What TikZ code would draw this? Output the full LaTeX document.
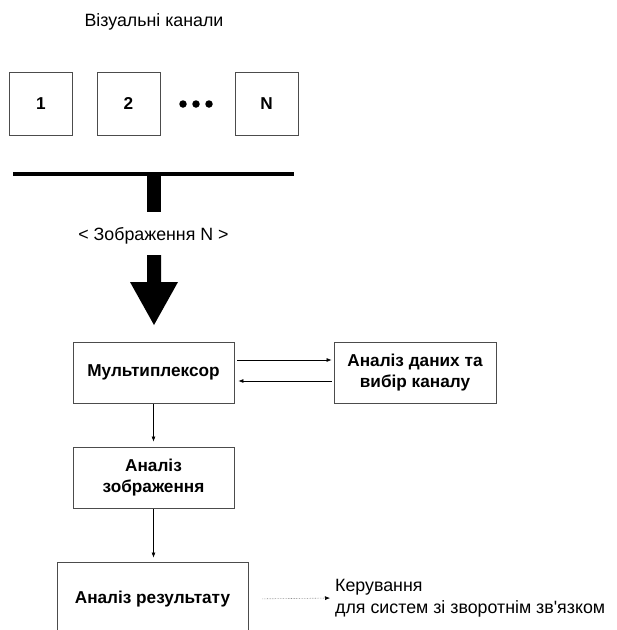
\documentclass[tikz,border=0pt]{standalone}
\usepackage{fontspec}
\setmainfont{Liberation Sans}
\usetikzlibrary{arrows.meta}

\begin{document}
\begin{tikzpicture}[x=1pt, y=-1pt,
    box/.style={draw=black!70, line width=0.9pt, inner sep=0, align=center,
    font=\bfseries\fontsize{17.2}{21}\selectfont},
    chan/.style={box, minimum width=63pt, minimum height=63pt},
    stage/.style={box, minimum width=161pt, minimum height=61pt},
    link/.style={-{Latex[length=5pt, width=4pt]}, line width=0.6pt},
    plain/.style={inner sep=0, align=left, font=\fontsize{17.8}{21.5}\selectfont}]

    \clip (0,0) rectangle (617,630);

    % Channels
    \node[plain] (title) at (154,22) {Візуальні канали};
    \node[chan] (c1) at (41,103.5) {1};
    \node[chan] (c2) at (128.5,103.5) {2};
    \node[chan] (cN) at (266.5,103.5) {N};
    \foreach \x/\n in {183/a, 196/b, 209/c}
        \node[circle, fill, inner sep=0, minimum size=7.5pt] (dot\n) at (\x,104) {};

    % Bus and big arrow
    \draw[line width=4pt] (13,174) -- (294,174);
    \fill (147,174) rectangle (161,212);
    \node[plain] (frame) at (153.5,236) {< Зображення N >};
    \fill (147,255) -- (161,255) -- (161,282) -- (178,282) -- (154,325)
        -- (130,282) -- (147,282) -- cycle;

    % Stages
    \node[stage] (mux) at (153.5,372.5) {Мультиплексор};
    \node[stage, minimum width=162pt] (select) at (415,372.5) {Аналіз даних та\\вибір каналу};
    \node[stage] (image) at (153.5,477.5) {Аналіз\\зображення};
    \node[stage, minimum width=191pt, minimum height=74pt] (result) at (152.5,599) {Аналіз результату};
    \node[plain, anchor=west] (control) at (335,598)
        {Керування\\для систем зі зворотнім зв\textquotesingle язком};

    % Links
    \draw[link, shorten <=3pt, shorten >=2pt] ([yshift=12.5pt]mux.east) -- ([yshift=12.5pt]select.west);
    \draw[link, shorten <=2pt, shorten >=4pt] ([yshift=-8.5pt]select.west) -- ([yshift=-8.5pt]mux.east);
    \draw[link, shorten <=1pt, shorten >=5pt] (mux) -- (image);
    \draw[link, shorten <=1pt, shorten >=4pt] (image.south) -- (image.south |- result.north);
    \draw[link, draw=black!50, densely dotted, -{Latex[length=5pt, width=4pt, black]},
        shorten <=14pt, shorten >=5pt] (result.east) -- (control.west);

\end{tikzpicture}
\end{document}
